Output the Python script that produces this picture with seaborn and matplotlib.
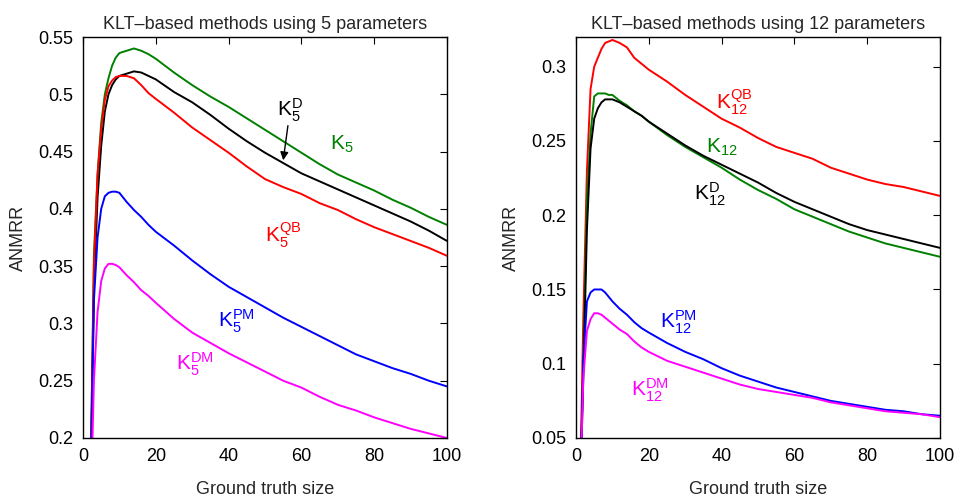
import matplotlib
matplotlib.use("Agg")
import matplotlib.pyplot as plt
import seaborn as sns
import numpy as np
import pandas as pd
from matplotlib.ticker import FuncFormatter, MultipleLocator

# ---------------- data ----------------
gt_size = [1, 2, 3, 4, 5, 6, 7, 8, 9, 10, 12, 14, 16, 18, 20, 25, 30, 35, 40,
           45, 50, 55, 60, 65, 70, 75, 80, 85, 90, 95, 100]

# 5 parameters
k5 = [0.0, 0.15, 0.36, 0.43, 0.475, 0.50, 0.514, 0.525, 0.532, 0.536, 0.538, 0.540,
      0.538, 0.535, 0.531, 0.519, 0.508, 0.498, 0.489, 0.479, 0.469, 0.459, 0.449,
      0.439, 0.430, 0.423, 0.416, 0.408, 0.401, 0.393, 0.386]
k5_d = [0.0, 0.13, 0.33, 0.41, 0.455, 0.485, 0.500, 0.508, 0.513, 0.516, 0.518, 0.520,
        0.519, 0.516, 0.513, 0.502, 0.493, 0.482, 0.470, 0.459, 0.449, 0.440, 0.431,
        0.424, 0.417, 0.410, 0.403, 0.396, 0.389, 0.381, 0.372]
k5_qb = [0.0, 0.15, 0.35, 0.43, 0.47, 0.495, 0.507, 0.512, 0.515, 0.516, 0.516, 0.514,
         0.508, 0.501, 0.496, 0.484, 0.471, 0.460, 0.449, 0.437, 0.426, 0.419, 0.413,
         0.405, 0.399, 0.391, 0.384, 0.378, 0.372, 0.366, 0.359]
k5_pm = [0.0, 0.15, 0.32, 0.375, 0.40, 0.411, 0.414, 0.415, 0.415, 0.414, 0.406, 0.399,
         0.393, 0.386, 0.380, 0.368, 0.355, 0.343, 0.332, 0.323, 0.314, 0.305, 0.297,
         0.289, 0.281, 0.273, 0.267, 0.261, 0.256, 0.250, 0.245]
k5_dm = [0.0, 0.12, 0.25, 0.31, 0.337, 0.348, 0.352, 0.352, 0.351, 0.349, 0.342, 0.336,
         0.329, 0.324, 0.318, 0.304, 0.292, 0.283, 0.274, 0.266, 0.258, 0.250, 0.244,
         0.236, 0.229, 0.224, 0.218, 0.213, 0.208, 0.204, 0.200]

# 12 parameters
k12_qb = [0.0, 0.13, 0.23, 0.285, 0.300, 0.306, 0.312, 0.316, 0.317, 0.318, 0.316, 0.313,
          0.306, 0.302, 0.298, 0.290, 0.281, 0.273, 0.265, 0.259, 0.252, 0.246, 0.242,
          0.238, 0.232, 0.228, 0.224, 0.221, 0.219, 0.216, 0.213]
k12 = [0.0, 0.10, 0.21, 0.255, 0.280, 0.282, 0.282, 0.282, 0.281, 0.281, 0.277, 0.274,
       0.270, 0.267, 0.263, 0.254, 0.246, 0.239, 0.232, 0.224, 0.217, 0.211, 0.204,
       0.199, 0.194, 0.189, 0.185, 0.181, 0.178, 0.175, 0.172]
k12_d = [0.0, 0.09, 0.19, 0.245, 0.265, 0.272, 0.276, 0.278, 0.278, 0.278, 0.276, 0.273,
         0.270, 0.267, 0.263, 0.255, 0.247, 0.240, 0.234, 0.228, 0.222, 0.215, 0.209,
         0.204, 0.199, 0.194, 0.190, 0.187, 0.184, 0.181, 0.178]
k12_pm = [0.0, 0.10, 0.142, 0.148, 0.150, 0.150, 0.150, 0.148, 0.145, 0.142, 0.137, 0.133,
          0.128, 0.124, 0.121, 0.114, 0.108, 0.103, 0.097, 0.092, 0.088, 0.084, 0.081,
          0.078, 0.075, 0.073, 0.071, 0.069, 0.068, 0.066, 0.065]
k12_dm = [0.0, 0.09, 0.122, 0.130, 0.134, 0.134, 0.133, 0.131, 0.129, 0.127, 0.123, 0.120,
          0.115, 0.111, 0.108, 0.102, 0.098, 0.094, 0.090, 0.086, 0.083, 0.081, 0.079,
          0.077, 0.074, 0.072, 0.070, 0.068, 0.067, 0.066, 0.064]

titles = ["KLT\u2013based methods using 5 parameters",
          "KLT\u2013based methods using 12 parameters"]
x_label = "Ground truth size"
y_label = "ANMRR"

# ---------------- style ----------------
sns.set_theme(style="white")
plt.rcParams["font.family"] = ["Liberation Sans", "DejaVu Sans"]
plt.rcParams["mathtext.fontset"] = "custom"
plt.rcParams["mathtext.rm"] = "Liberation Sans"
plt.rcParams["mathtext.it"] = "Liberation Sans"
plt.rcParams["mathtext.default"] = "regular"

GREEN = "#008000"
RED = "#ff0000"
BLUE = "#0000ff"
MAG = "#ff00ff"
BLACK = "#000000"

fig = plt.figure(figsize=(9.56, 5.0), dpi=100)
ax1 = fig.add_axes([83 / 956, 62 / 500, 364 / 956, 401 / 500])
ax2 = fig.add_axes([576 / 956, 62 / 500, 364 / 956, 401 / 500])

lw = 1.4
left_series = [(k5, GREEN), (k5_d, BLACK), (k5_qb, RED), (k5_pm, BLUE), (k5_dm, MAG)]
right_series = [(k12_qb, RED), (k12, GREEN), (k12_d, BLACK), (k12_pm, BLUE), (k12_dm, MAG)]

for ax, series in ((ax1, left_series), (ax2, right_series)):
    for vals, col in series:
        sns.lineplot(x=gt_size, y=vals, color=col, linewidth=lw, ax=ax, legend=False)

fmt = FuncFormatter(lambda v, p: "%g" % round(v, 3))
for ax, title, ylim in ((ax1, titles[0], (0.2, 0.55)), (ax2, titles[1], (0.05, 0.32))):
    ax.set_xlim(0, 100)
    ax.set_ylim(*ylim)
    ax.xaxis.set_major_locator(MultipleLocator(20))
    ax.yaxis.set_major_locator(MultipleLocator(0.05))
    ax.yaxis.set_major_formatter(fmt)
    ax.tick_params(direction="in", top=True, right=True, length=5, width=0.8,
                   labelsize=13, colors="black", pad=7)
    for s in ax.spines.values():
        s.set_color("black")
        s.set_linewidth(1.0)
    ax.set_title(title, fontsize=13, pad=6)
    ax.set_xlabel(x_label, fontsize=13, labelpad=12)
    ax.set_ylabel(y_label, fontsize=13, labelpad=8)

# ---------------- annotations ----------------
fs = 15
ax1.text(56.9, 0.486, r"$K_5^{D}$", color=BLACK, fontsize=fs, ha="center", va="center")
ax1.annotate("", xy=(54.9, 0.440), xytext=(56.4, 0.475),
             arrowprops=dict(arrowstyle="-|>", color="black", lw=1.0, mutation_scale=12))
ax1.text(71.1, 0.456, r"$K_5$", color=GREEN, fontsize=fs, ha="center", va="center")
ax1.text(55.0, 0.377, r"$K_5^{QB}$", color=RED, fontsize=fs, ha="center", va="center")
ax1.text(42.2, 0.302, r"$K_5^{PM}$", color=BLUE, fontsize=fs, ha="center", va="center")
ax1.text(30.8, 0.264, r"$K_5^{DM}$", color=MAG, fontsize=fs, ha="center", va="center")

ax2.text(43.6, 0.276, r"$K_{12}^{QB}$", color=RED, fontsize=fs, ha="center", va="center")
ax2.text(40.0, 0.246, r"$K_{12}$", color=GREEN, fontsize=fs, ha="center", va="center")
ax2.text(36.7, 0.214, r"$K_{12}^{D}$", color=BLACK, fontsize=fs, ha="center", va="center")
ax2.text(28.1, 0.128, r"$K_{12}^{PM}$", color=BLUE, fontsize=fs, ha="center", va="center")
ax2.text(20.3, 0.082, r"$K_{12}^{DM}$", color=MAG, fontsize=fs, ha="center", va="center")

fig.savefig("out.png", dpi=100, facecolor="white")
